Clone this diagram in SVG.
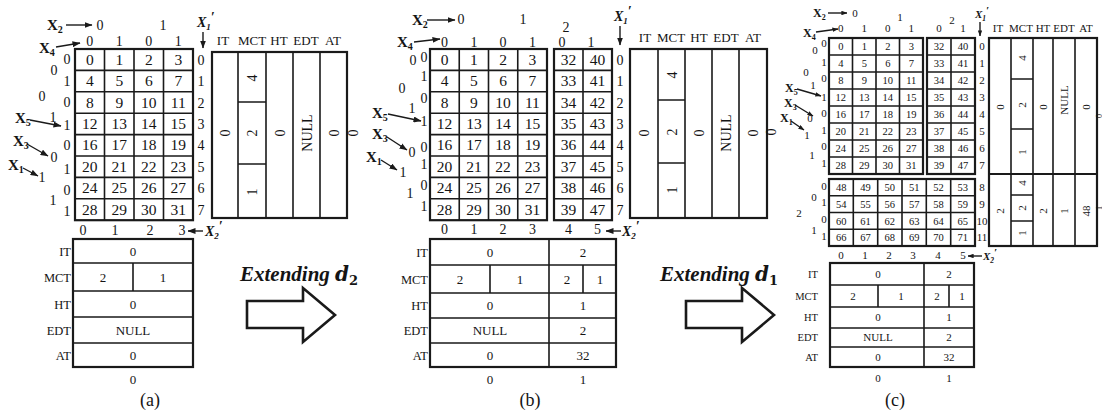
<svg xmlns="http://www.w3.org/2000/svg" width="1102" height="417" viewBox="0 0 1102 417">
<style>
.bg{fill:#fff}
.ob{fill:none;stroke:#1a1a1a;stroke-width:2.2}
.il{fill:none;stroke:#1a1a1a;stroke-width:1.6}
.ar{fill:none;stroke:#1a1a1a;stroke-width:1.4}
.ha{fill:#fff;stroke:#1a1a1a;stroke-width:2.6;stroke-linejoin:miter}
text{font-family:"Liberation Serif","Times New Roman",serif;fill:#141414}
.c{text-anchor:middle}
.e{text-anchor:end}
.f15{font-size:15.5px}
.f14{font-size:14px}
.f13{font-size:13px}
.f12{font-size:12.5px}
.f11{font-size:11px}
.f10{font-size:10.5px}
.xl{font-weight:bold;font-size:15px}
.xs{font-weight:bold;font-size:12px}
.xp{font-weight:bold;font-style:italic}
.ext{font-weight:bold;font-style:italic;font-size:21px}
.cap{font-size:18px;text-anchor:middle}
</style>
<defs>
<marker id="ah" viewBox="0 0 8 6" refX="7.5" refY="3" markerWidth="8" markerHeight="6" markerUnits="userSpaceOnUse" orient="auto"><path d="M0,0 L8,3 L0,6 z" fill="#1a1a1a"/></marker>
<marker id="ahs" viewBox="0 0 8 6" refX="7.5" refY="3" markerWidth="6" markerHeight="4.5" markerUnits="userSpaceOnUse" orient="auto"><path d="M0,0 L8,3 L0,6 z" fill="#1a1a1a"/></marker>
</defs>
<rect class="bg" x="0" y="0" width="1102" height="417"/>

<!-- ================= PANEL A ================= -->
<g id="a-matrix">
<rect class="ob" x="75" y="49" width="118" height="171.2"/>
<path class="il" d="M75 70.4H193M75 91.8H193M75 113.2H193M75 134.6H193M75 156H193M75 177.4H193M75 198.8H193M104.5 49V220.2M134 49V220.2M163.5 49V220.2"/>
<g class="c f15">
<text x="89.75" y="65">0</text><text x="119.25" y="65">1</text><text x="148.75" y="65">2</text><text x="178.25" y="65">3</text>
<text x="89.75" y="86">4</text><text x="119.25" y="86">5</text><text x="148.75" y="86">6</text><text x="178.25" y="86">7</text>
<text x="89.75" y="108">8</text><text x="119.25" y="108">9</text><text x="148.75" y="108">10</text><text x="178.25" y="108">11</text>
<text x="89.75" y="129">12</text><text x="119.25" y="129">13</text><text x="148.75" y="129">14</text><text x="178.25" y="129">15</text>
<text x="89.75" y="150">16</text><text x="119.25" y="150">17</text><text x="148.75" y="150">18</text><text x="178.25" y="150">19</text>
<text x="89.75" y="172">20</text><text x="119.25" y="172">21</text><text x="148.75" y="172">22</text><text x="178.25" y="172">23</text>
<text x="89.75" y="193">24</text><text x="119.25" y="193">25</text><text x="148.75" y="193">26</text><text x="178.25" y="193">27</text>
<text x="89.75" y="215">28</text><text x="119.25" y="215">29</text><text x="148.75" y="215">30</text><text x="178.25" y="215">31</text>
</g>
</g>
<g id="a-labels" class="c f14">
<text x="100" y="30">0</text><text x="163" y="30">1</text>
<text x="89.75" y="46">0</text><text x="119.25" y="46">1</text><text x="148.75" y="46">0</text><text x="178.25" y="46">1</text>
<text x="201" y="65">0</text><text x="201" y="86">1</text><text x="201" y="108">2</text><text x="201" y="129">3</text><text x="201" y="150">4</text><text x="201" y="172">5</text><text x="201" y="193">6</text><text x="201" y="215">7</text>
<text x="83" y="235">0</text><text x="115" y="235">1</text><text x="150" y="235">2</text><text x="182" y="235">3</text>
<text x="67" y="64">0</text><text x="67" y="86">1</text><text x="67" y="107">0</text><text x="67" y="130">1</text><text x="67" y="150">0</text><text x="67" y="174">1</text><text x="67" y="195">0</text><text x="67" y="216">1</text>
<text x="54" y="75">0</text><text x="53" y="122">1</text><text x="54" y="162">0</text><text x="53" y="205">1</text>
<text x="42" y="101">0</text><text x="42" y="182">1</text>
</g>
<g id="a-xlabels">
<text class="xl" x="47" y="30">X<tspan font-size="10" dy="3">2</tspan></text>
<text class="xl" x="39" y="53">X<tspan font-size="10" dy="3">4</tspan></text>
<text class="xl" x="15" y="123">X<tspan font-size="10" dy="3">5</tspan></text>
<text class="xl" x="13" y="146">X<tspan font-size="10" dy="3">3</tspan></text>
<text class="xl" x="8" y="170">X<tspan font-size="10" dy="3">1</tspan></text>
<text class="xp f14" x="197" y="27">X<tspan font-size="9" dy="3">1</tspan><tspan dy="-8">′</tspan></text>
<text class="xp f14" x="205" y="236">X<tspan font-size="9" dy="3">2</tspan><tspan dy="-8">′</tspan></text>
</g>
<g id="a-state">
<rect class="ob" x="212" y="52" width="135" height="166"/>
<path class="il" d="M238 52V218M266 52V218M293 52V218M320 52V218M238 102H266M238 164H266"/>
<g class="c f13">
<text x="223" y="45">IT</text><text x="252" y="45">MCT</text><text x="279" y="45">HT</text><text x="306" y="45">EDT</text><text x="333" y="45">AT</text>
</g>
<g class="c f14">
<text transform="rotate(-90 225 133)" x="225" y="138">0</text>
<text transform="rotate(-90 252 78)" x="252" y="83">4</text>
<text transform="rotate(-90 252 133)" x="252" y="138">2</text>
<text transform="rotate(-90 252 192)" x="252" y="197">1</text>
<text transform="rotate(-90 279.5 133)" x="279.5" y="138">0</text>
<text transform="rotate(-90 306.5 133)" x="306.5" y="138">NULL</text>
<text transform="rotate(-90 333.5 133)" x="333.5" y="138">0</text>
<text transform="rotate(-90 353 133)" x="353" y="138">0</text>
</g>
</g>
<g id="a-table">
<rect class="ob" x="73" y="239" width="120" height="128"/>
<path class="il" d="M73 263H193M73 291H193M73 317H193M73 343H193M133 263V291"/>
<g class="e f12"><text x="71" y="256">IT</text><text x="71" y="282">MCT</text><text x="71" y="309">HT</text><text x="71" y="335">EDT</text><text x="71" y="360">AT</text></g>
<g class="c f13">
<text x="133" y="256">0</text><text x="103" y="282">2</text><text x="163" y="282">1</text><text x="133" y="309">0</text><text x="133" y="335">NULL</text><text x="133" y="360">0</text>
<text x="133" y="384">0</text>
</g>
</g>
<text class="cap" x="150" y="406">(a)</text>

<!-- ================= PANEL B ================= -->
<g id="b-matrix">
<rect class="ob" x="430" y="49" width="117" height="171.2"/>
<rect class="ob" x="554" y="49" width="58" height="171.2"/>
<path class="il" d="M430 70.4H547M430 91.8H547M430 113.2H547M430 134.6H547M430 156H547M430 177.4H547M430 198.8H547M459.25 49V220.2M488.5 49V220.2M517.75 49V220.2"/>
<path class="il" d="M554 70.4H612M554 91.8H612M554 113.2H612M554 134.6H612M554 156H612M554 177.4H612M554 198.8H612M583 49V220.2"/>
<g class="c f15">
<text x="444.6" y="65">0</text><text x="473.9" y="65">1</text><text x="503.1" y="65">2</text><text x="532.4" y="65">3</text><text x="568.5" y="65">32</text><text x="597.5" y="65">40</text>
<text x="444.6" y="86">4</text><text x="473.9" y="86">5</text><text x="503.1" y="86">6</text><text x="532.4" y="86">7</text><text x="568.5" y="86">33</text><text x="597.5" y="86">41</text>
<text x="444.6" y="108">8</text><text x="473.9" y="108">9</text><text x="503.1" y="108">10</text><text x="532.4" y="108">11</text><text x="568.5" y="108">34</text><text x="597.5" y="108">42</text>
<text x="444.6" y="129">12</text><text x="473.9" y="129">13</text><text x="503.1" y="129">14</text><text x="532.4" y="129">15</text><text x="568.5" y="129">35</text><text x="597.5" y="129">43</text>
<text x="444.6" y="150">16</text><text x="473.9" y="150">17</text><text x="503.1" y="150">18</text><text x="532.4" y="150">19</text><text x="568.5" y="150">36</text><text x="597.5" y="150">44</text>
<text x="444.6" y="172">20</text><text x="473.9" y="172">21</text><text x="503.1" y="172">22</text><text x="532.4" y="172">23</text><text x="568.5" y="172">37</text><text x="597.5" y="172">45</text>
<text x="444.6" y="193">24</text><text x="473.9" y="193">25</text><text x="503.1" y="193">26</text><text x="532.4" y="193">27</text><text x="568.5" y="193">38</text><text x="597.5" y="193">46</text>
<text x="444.6" y="215">28</text><text x="473.9" y="215">29</text><text x="503.1" y="215">30</text><text x="532.4" y="215">31</text><text x="568.5" y="215">39</text><text x="597.5" y="215">47</text>
</g>
</g>
<g id="b-labels" class="c f14">
<text x="461" y="24">0</text><text x="523" y="24">1</text><text x="566" y="32">2</text>
<text x="444.6" y="47">0</text><text x="473.9" y="47">1</text><text x="503.1" y="47">0</text><text x="532.4" y="47">1</text><text x="562" y="47">0</text><text x="591" y="47">1</text>
<text x="620" y="65">0</text><text x="620" y="86">1</text><text x="620" y="108">2</text><text x="620" y="129">3</text><text x="620" y="150">4</text><text x="620" y="172">5</text><text x="620" y="193">6</text><text x="620" y="215">7</text>
<text x="444.6" y="234">0</text><text x="473.9" y="234">1</text><text x="503.1" y="234">2</text><text x="532.4" y="234">3</text><text x="568.5" y="234">4</text><text x="597.5" y="234">5</text>
<text x="424" y="62">0</text><text x="424" y="81">1</text><text x="424" y="103">0</text><text x="424" y="126">1</text><text x="424" y="152">0</text><text x="424" y="169">1</text><text x="424" y="190">0</text><text x="424" y="211">1</text>
<text x="413" y="65">0</text><text x="412" y="113">1</text><text x="412" y="157">0</text><text x="410" y="198">1</text>
<text x="402" y="93">0</text><text x="403" y="177">1</text>
</g>
<g id="b-xlabels">
<text class="xl" x="412" y="25">X<tspan font-size="10" dy="3">2</tspan></text>
<text class="xl" x="397" y="47">X<tspan font-size="10" dy="3">4</tspan></text>
<text class="xl" x="372" y="118">X<tspan font-size="10" dy="3">5</tspan></text>
<text class="xl" x="372" y="139">X<tspan font-size="10" dy="3">3</tspan></text>
<text class="xl" x="366" y="162">X<tspan font-size="10" dy="3">1</tspan></text>
<text class="xp f14" x="614" y="21">X<tspan font-size="9" dy="3">1</tspan><tspan dy="-8">′</tspan></text>
<text class="xp f14" x="622" y="236">X<tspan font-size="9" dy="3">2</tspan><tspan dy="-8">′</tspan></text>
</g>
<g id="b-state">
<rect class="ob" x="630" y="49" width="137" height="169"/>
<path class="il" d="M658 49V218M685 49V218M712 49V218M739 49V218M658 100H685M658 163H685"/>
<g class="c f13">
<text x="645" y="42">IT</text><text x="671" y="42">MCT</text><text x="699" y="42">HT</text><text x="726" y="42">EDT</text><text x="753" y="42">AT</text>
</g>
<g class="c f14">
<text transform="rotate(-90 644 133)" x="644" y="138">0</text>
<text transform="rotate(-90 671.5 75)" x="671.5" y="80">4</text>
<text transform="rotate(-90 671.5 132)" x="671.5" y="137">2</text>
<text transform="rotate(-90 671.5 190)" x="671.5" y="195">1</text>
<text transform="rotate(-90 698.5 133)" x="698.5" y="138">0</text>
<text transform="rotate(-90 725.5 133)" x="725.5" y="138">NULL</text>
<text transform="rotate(-90 753 133)" x="753" y="138">0</text>
<text transform="rotate(-90 771 132)" x="771" y="137">0</text>
</g>
</g>
<g id="b-table">
<rect class="ob" x="430" y="239" width="186" height="128"/>
<path class="il" d="M430 265H616M430 293H616M430 318H616M430 343H616M549 239V367M490 265V293M583 265V293"/>
<g class="e f12"><text x="428" y="257">IT</text><text x="428" y="284">MCT</text><text x="428" y="310">HT</text><text x="428" y="335">EDT</text><text x="428" y="360">AT</text></g>
<g class="c f13">
<text x="490" y="257">0</text><text x="583" y="257">2</text>
<text x="460" y="284">2</text><text x="520" y="284">1</text><text x="567" y="284">2</text><text x="600" y="284">1</text>
<text x="490" y="310">0</text><text x="583" y="310">1</text>
<text x="490" y="335">NULL</text><text x="583" y="335">2</text>
<text x="490" y="360">0</text><text x="583" y="360">32</text>
<text x="490" y="384">0</text><text x="583" y="384">1</text>
</g>
</g>
<text class="cap" x="530" y="406">(b)</text>

<!-- ================= PANEL C ================= -->
<g id="c-matrix">
<rect class="ob" x="829" y="38" width="94" height="136"/>
<rect class="ob" x="927" y="38" width="48" height="136"/>
<rect class="ob" x="829" y="179" width="146" height="67"/>
<path class="il" d="M829 55H923M829 72H923M829 89H923M829 106H923M829 123H923M829 140H923M829 157H923M852.5 38V174M876 38V174M899.5 38V174"/>
<path class="il" d="M927 55H975M927 72H975M927 89H975M927 106H975M927 123H975M927 140H975M927 157H975M951 38V174"/>
<path class="il" d="M829 195.75H975M829 212.5H975M829 229.25H975M853.3 179V246M877.7 179V246M902 179V246M926.3 179V246M950.7 179V246"/>
<g class="c f10">
<text x="840.75" y="50.3">0</text><text x="864.25" y="50.3">1</text><text x="887.75" y="50.3">2</text><text x="911.25" y="50.3">3</text><text x="939" y="50.3">32</text><text x="963" y="50.3">40</text>
<text x="840.75" y="67.3">4</text><text x="864.25" y="67.3">5</text><text x="887.75" y="67.3">6</text><text x="911.25" y="67.3">7</text><text x="939" y="67.3">33</text><text x="963" y="67.3">41</text>
<text x="840.75" y="84.3">8</text><text x="864.25" y="84.3">9</text><text x="887.75" y="84.3">10</text><text x="911.25" y="84.3">11</text><text x="939" y="84.3">34</text><text x="963" y="84.3">42</text>
<text x="840.75" y="101.3">12</text><text x="864.25" y="101.3">13</text><text x="887.75" y="101.3">14</text><text x="911.25" y="101.3">15</text><text x="939" y="101.3">35</text><text x="963" y="101.3">43</text>
<text x="840.75" y="118.3">16</text><text x="864.25" y="118.3">17</text><text x="887.75" y="118.3">18</text><text x="911.25" y="118.3">19</text><text x="939" y="118.3">36</text><text x="963" y="118.3">44</text>
<text x="840.75" y="135.3">20</text><text x="864.25" y="135.3">21</text><text x="887.75" y="135.3">22</text><text x="911.25" y="135.3">23</text><text x="939" y="135.3">37</text><text x="963" y="135.3">45</text>
<text x="840.75" y="152.3">24</text><text x="864.25" y="152.3">25</text><text x="887.75" y="152.3">26</text><text x="911.25" y="152.3">27</text><text x="939" y="152.3">38</text><text x="963" y="152.3">46</text>
<text x="840.75" y="169.3">28</text><text x="864.25" y="169.3">29</text><text x="887.75" y="169.3">30</text><text x="911.25" y="169.3">31</text><text x="939" y="169.3">39</text><text x="963" y="169.3">47</text>
<text x="841.2" y="191.2">48</text><text x="865.5" y="191.2">49</text><text x="889.8" y="191.2">50</text><text x="914.2" y="191.2">51</text><text x="938.5" y="191.2">52</text><text x="962.8" y="191.2">53</text>
<text x="841.2" y="207.9">54</text><text x="865.5" y="207.9">55</text><text x="889.8" y="207.9">56</text><text x="914.2" y="207.9">57</text><text x="938.5" y="207.9">58</text><text x="962.8" y="207.9">59</text>
<text x="841.2" y="224.7">60</text><text x="865.5" y="224.7">61</text><text x="889.8" y="224.7">62</text><text x="914.2" y="224.7">63</text><text x="938.5" y="224.7">64</text><text x="962.8" y="224.7">65</text>
<text x="841.2" y="241.4">66</text><text x="865.5" y="241.4">67</text><text x="889.8" y="241.4">68</text><text x="914.2" y="241.4">69</text><text x="938.5" y="241.4">70</text><text x="962.8" y="241.4">71</text>
</g>
</g>
<g id="c-labels" class="c f11">
<text x="855" y="17">0</text><text x="900" y="21">1</text><text x="952" y="24">2</text>
<text x="840.75" y="32">0</text><text x="864.25" y="32">1</text><text x="887.75" y="32">0</text><text x="911.25" y="32">1</text><text x="939" y="32">0</text><text x="963" y="32">1</text>
<text x="982" y="50.3">0</text><text x="982" y="67.3">1</text><text x="982" y="84.3">2</text><text x="982" y="101.3">3</text><text x="982" y="118.3">4</text><text x="982" y="135.3">5</text><text x="982" y="152.3">6</text><text x="982" y="169.3">7</text>
<text x="982" y="191.2">8</text><text x="982" y="207.9">9</text><text x="982" y="224.7">10</text><text x="982" y="241.4">11</text>
<text x="841" y="259">0</text><text x="865" y="259">1</text><text x="889" y="259">2</text><text x="913" y="259">3</text><text x="938" y="259">4</text><text x="963" y="259">5</text>
<text x="824" y="47">0</text><text x="824" y="66">1</text><text x="824" y="82">0</text><text x="824" y="101">1</text><text x="824" y="117">0</text><text x="824" y="134">1</text><text x="824" y="150">0</text><text x="824" y="167">1</text>
<text x="815" y="54">0</text><text x="813" y="89">1</text><text x="810" y="122">0</text><text x="812" y="159">1</text>
<text x="806" y="76">0</text><text x="807" y="139">1</text>
<text x="824" y="190">0</text><text x="824" y="206">1</text><text x="824" y="223">0</text><text x="824" y="240">1</text>
<text x="814" y="201">0</text><text x="814" y="234">1</text>
<text x="799" y="217">2</text>
</g>
<g id="c-xlabels">
<text class="xs" x="813" y="17">X<tspan font-size="8" dy="2.5">2</tspan></text>
<text class="xs" x="803" y="37">X<tspan font-size="8" dy="2.5">4</tspan></text>
<text class="xs" x="785" y="92">X<tspan font-size="8" dy="2.5">5</tspan></text>
<text class="xs" x="784" y="107">X<tspan font-size="8" dy="2.5">3</tspan></text>
<text class="xs" x="780" y="122">X<tspan font-size="8" dy="2.5">1</tspan></text>
<text class="xp f11" x="975" y="18">X<tspan font-size="7.5" dy="2.5">1</tspan><tspan dy="-7">′</tspan></text>
<text class="xp f11" x="983" y="260">X<tspan font-size="7.5" dy="2.5">2</tspan><tspan dy="-7">′</tspan></text>
</g>
<g id="c-state">
<rect class="ob" x="989" y="38" width="108" height="208"/>
<path class="il" d="M1011 38V246M1033 38V246M1053 38V246M1075 38V246M1011 79H1033M1011 129H1033M1011 195H1033M1011 221H1033"/>
<path class="ob" d="M989 174H1097"/>
<g class="c f11">
<text x="998" y="32">IT</text><text x="1021" y="32">MCT</text><text x="1043" y="32">HT</text><text x="1064" y="32">EDT</text><text x="1086" y="32">AT</text>
</g>
<g class="c f11">
<text transform="rotate(-90 1000 107)" x="1000" y="111">0</text>
<text transform="rotate(-90 1022 58)" x="1022" y="62">4</text>
<text transform="rotate(-90 1022 105)" x="1022" y="109">2</text>
<text transform="rotate(-90 1022 152)" x="1022" y="156">1</text>
<text transform="rotate(-90 1043 107)" x="1043" y="111">0</text>
<text transform="rotate(-90 1064 100)" x="1064" y="104">NULL</text>
<text transform="rotate(-90 1086 107)" x="1086" y="111">0</text>
<text transform="rotate(-90 1000 211)" x="1000" y="215">2</text>
<text transform="rotate(-90 1022 183)" x="1022" y="187">4</text>
<text transform="rotate(-90 1022 208)" x="1022" y="212">2</text>
<text transform="rotate(-90 1022 233)" x="1022" y="237">1</text>
<text transform="rotate(-90 1043 211)" x="1043" y="215">2</text>
<text transform="rotate(-90 1064 211)" x="1064" y="215">1</text>
<text transform="rotate(-90 1086 211)" x="1086" y="215">48</text>
</g>
<g class="c" font-size="8">
<text transform="rotate(-90 1099 116)" x="1099" y="119">0</text>
<text transform="rotate(-90 1099 208)" x="1099" y="211">1</text>
</g>
</g>
<g id="c-table">
<rect class="ob" x="830" y="263" width="144" height="104"/>
<path class="il" d="M830 285H974M830 307H974M830 328H974M830 347H974M924 263V367M878 285V307M949 285V307"/>
<g class="e f10"><text x="818" y="278">IT</text><text x="818" y="300">MCT</text><text x="818" y="321">HT</text><text x="818" y="341">EDT</text><text x="818" y="361">AT</text></g>
<g class="c f11">
<text x="878" y="278">0</text><text x="949" y="278">2</text>
<text x="853" y="300">2</text><text x="901" y="300">1</text><text x="937" y="300">2</text><text x="962" y="300">1</text>
<text x="878" y="321">0</text><text x="949" y="321">1</text>
<text x="878" y="341">NULL</text><text x="949" y="341">2</text>
<text x="878" y="361">0</text><text x="949" y="361">32</text>
<text x="878" y="382">0</text><text x="949" y="382">1</text>
</g>
</g>
<text class="cap" x="895" y="406">(c)</text>

<!-- ================= TRANSITIONS ================= -->
<g id="step-1">
<text class="ext" x="240" y="281">Extending <tspan font-family="'DejaVu Serif',serif" font-size="20">d</tspan><tspan font-family="'DejaVu Serif',serif" font-size="13" font-style="normal" dy="4">2</tspan></text>
</g>
<g id="step-2">
<text class="ext" x="660" y="281">Extending <tspan font-family="'DejaVu Serif',serif" font-size="20">d</tspan><tspan font-family="'DejaVu Serif',serif" font-size="13" font-style="normal" dy="4">1</tspan></text>
</g>

<g id="connectors">
<path class="ha" d="M247 301H303V288L335 315L303 342V328H247Z"/>
<path class="ha" d="M686 301H742V288L774 315L742 342V328H686Z"/>
<g class="ar" marker-end="url(#ah)">
<path d="M66 25H92"/>
<path d="M56 47L80 43"/>
<path d="M203 32V48"/>
<path d="M203 231H188"/>
<path d="M30 120L61 126"/>
<path d="M27 144L48 156"/>
<path d="M23 168L38 176"/>
<path d="M427 20H455"/>
<path d="M414 42L440 39"/>
<path d="M620 26V45"/>
<path d="M621 231H606"/>
<path d="M388 114L421 121"/>
<path d="M387 137L407 150"/>
<path d="M381 160L397 170"/>
</g>
<g class="ar" marker-end="url(#ahs)" stroke-width="1.1">
<path d="M828 13H847"/>
<path d="M816 32L838 29"/>
<path d="M980 22V36"/>
<path d="M982 256H968"/>
<path d="M797 89L821 96"/>
<path d="M795 105L813 116"/>
<path d="M791 121L804 130"/>
</g>
</g>
</svg>
